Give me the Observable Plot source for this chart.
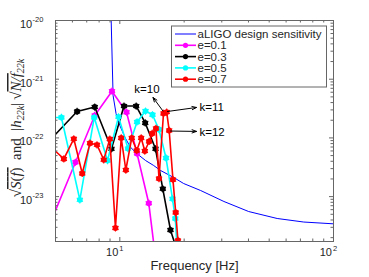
<!DOCTYPE html>
<html><head><meta charset="utf-8">
<script src="https://cdn.jsdelivr.net/npm/d3@7"></script>
<script src="https://cdn.jsdelivr.net/npm/@observablehq/plot@0.6"></script>
<style>
body{margin:0;background:#fff}
svg{font-family:"Liberation Sans",Arial,sans-serif}
</style>
</head><body><div id="chart"></div>
<script>
// ---- data ----
const aligoFreq = [9.08, 9.11, 9.3, 9.6, 10.0, 10.6, 11.2, 12.0, 13.2, 14.4, 15.5, 17.9, 19.9, 23.9, 30.7, 40.1, 54.5, 72.6, 100];
const aligoVal  = [1e-18, 1e-20, 5.27e-22, 2.61e-22, 1.63e-22, 1.0e-22, 7.0e-23, 5.42e-23, 4.12e-23, 3.39e-23, 2.79e-23, 2.11e-23, 1.67e-23, 1.27e-23, 8.26e-24, 5.57e-24, 4.24e-24, 3.69e-24, 3.44e-24];

const e01Freq = [4.6, 6.20, 7.63, 9.19, 10.75, 12.04, 13.66, 15.2];
const e01Val  = [2.79e-24, 3.85e-23, 2.41e-22, 6.25e-22, 2.74e-22, 5.42e-23, 7.72e-24, 3.3e-25];

const e03Freq = [4.7, 6.31, 7.63, 9.14, 10.46, 11.93, 13.15, 14.69, 15.89, 17.26, 18.52];
const e03Val  = [9.04e-23, 2.82e-22, 3.36e-22, 6.52e-23, 3.49e-22, 3.49e-22, 1.80e-22, 6.52e-23, 1.36e-23, 2.70e-24, 1.21e-24];

const e05Freq = [4.5, 5.33, 6.50, 7.59, 8.76, 9.86, 10.92, 12.04, 13.19, 14.22, 15.25, 16.45, 17.64, 18.18, 18.71];
const e05Val  = [2.23e-22, 2.23e-22, 8.83e-24, 2.23e-22, 4.12e-23, 2.29e-22, 6.59e-23, 1.87e-22, 2.87e-22, 2.48e-22, 1.39e-22, 4.55e-23, 9.18e-24, 4.24e-24, 7.5e-25];

const e07Freq = [4.84, 5.47, 6.09, 6.67, 7.25, 7.82, 8.41, 8.98, 9.54, 10.15, 10.67, 11.37, 12.0, 12.59, 13.09, 13.71, 14.17, 14.76, 15.25, 16.01, 16.57, 17.02, 17.73, 18.26, 18.71];
const e07Val  = [6.62e-23, 4.38e-23, 9.66e-23, 2.48e-23, 8.13e-23, 7.63e-23, 4.24e-23, 9.57e-23, 2.92e-24, 1.0e-22, 2.84e-23, 1.0e-22, 6.10e-23, 1.0e-22, 5.98e-23, 8.69e-23, 1.19e-22, 1.45e-22, 2.03e-23, 2.61e-22, 2.76e-22, 1.34e-22, 1.95e-23, 5.36e-24, 1.79e-24];

const seriesNames  = ["e=0.1", "e=0.3", "e=0.5", "e=0.7"];
const seriesColors = ["#ff00ff", "#000000", "#00ffff", "#ff0000"];
const aligoName = "aLIGO design sensitivity";
const aligoColor = "#0000ff";

// annotations (arrow start -> end, label position)
const kLabels   = ["k=10", "k=11", "k=12"];
const kArrowX1  = [15.92, 16.71, 17.26];
const kArrowY1  = [2.87e-22, 2.82e-22, 1.31e-22];
const kArrowX2  = [14.30, 22.84, 22.84];
const kArrowY2  = [4.88e-22, 3.30e-22, 1.29e-22];
const kTextX    = [13.40, 23.59, 23.59];
const kTextY    = [6.68e-22, 3.30e-22, 1.27e-22];
const kAnchor   = ["middle", "start", "start"];

const xMajor = [10, 100];
const xMinor = [6, 7, 8, 9, 20, 30, 40, 50, 60, 70, 80, 90];
const yMajor = [1e-23, 1e-22, 1e-21, 1e-20];
const yMinor = [];
[1e-24, 1e-23, 1e-22, 1e-21].forEach(b => { for (let m = 2; m <= 9; m++) yMinor.push(m * b); });
const xLabel = "Frequency [Hz]";

// ---- build tables ----
const aligo = aligoFreq.map((f, i) => ({f, v: aligoVal[i]}));
const seriesF = [e01Freq, e03Freq, e05Freq, e07Freq];
const seriesV = [e01Val, e03Val, e05Val, e07Val];
const series = seriesF.map((fs, s) => fs.map((f, i) => ({f, v: seriesV[s][i]})));
const arrows = kLabels.map((t, i) => ({t, x1: kArrowX1[i], y1: kArrowY1[i], x2: kArrowX2[i], y2: kArrowY2[i], tx: kTextX[i], ty: kTextY[i], a: kAnchor[i]}));

const W = 369, H = 277, mL = 55, mR = 36, mT = 20, mB = 36;
const iW = W - mL - mR, iH = H - mT - mB;
const axisColor = "#666";
const majLen = 4, minLen = 2.5;

const marks = [
  Plot.line(aligo, {x: "f", y: "v", stroke: aligoColor, strokeWidth: 1, clip: true})
];
series.forEach((d, s) => {
  marks.push(Plot.line(d, {x: "f", y: "v", stroke: seriesColors[s], strokeWidth: 1.6, clip: true}));
  marks.push(Plot.dot(d, {x: "f", y: "v", fill: seriesColors[s], r: 2.9, clip: true}));
  marks.push(Plot.dot(d, {x: "f", y: "v", symbol: "asterisk", stroke: seriesColors[s], strokeWidth: 1.1, r: 3.4, clip: true}));
});
marks.push(
  Plot.arrow(arrows, {x1: "x1", y1: "y1", x2: "x2", y2: "y2", stroke: "black", strokeWidth: 1, headLength: 7, headAngle: 40}),
  Plot.text(arrows.filter(d => d.a === "middle"), {x: "tx", y: "ty", text: "t", fontSize: 11.5, textAnchor: "middle", fill: "black"}),
  Plot.text(arrows.filter(d => d.a === "start"), {x: "tx", y: "ty", text: "t", fontSize: 11.5, textAnchor: "start", fill: "black"}),
  // ticks (inward, box on)
  Plot.tickX(xMajor, {x: d => d, insetTop: iH - majLen, stroke: axisColor}),
  Plot.tickX(xMajor, {x: d => d, insetBottom: iH - majLen, stroke: axisColor}),
  Plot.tickX(xMinor, {x: d => d, insetTop: iH - minLen, stroke: axisColor}),
  Plot.tickX(xMinor, {x: d => d, insetBottom: iH - minLen, stroke: axisColor}),
  Plot.tickY(yMajor, {y: d => d, insetRight: iW - majLen, stroke: axisColor}),
  Plot.tickY(yMajor, {y: d => d, insetLeft: iW - majLen, stroke: axisColor}),
  Plot.tickY(yMinor, {y: d => d, insetRight: iW - minLen, stroke: axisColor}),
  Plot.tickY(yMinor, {y: d => d, insetLeft: iW - minLen, stroke: axisColor}),
  Plot.frame({stroke: axisColor, strokeWidth: 1}),
  // tick labels 10^n
  Plot.text(xMajor, {x: d => d, frameAnchor: "bottom", dy: 14, dx: -1.5, text: () => "10", textAnchor: "end", fontSize: 11, fill: "#262626"}),
  Plot.text(xMajor, {x: d => d, frameAnchor: "bottom", dy: 9, dx: -0.5, text: d => String(Math.round(Math.log10(d))), textAnchor: "start", fontSize: 7.5, fill: "#262626"}),
  Plot.text(yMajor, {y: d => d, frameAnchor: "left", dx: -23.3, dy: 4, text: () => "10", textAnchor: "end", fontSize: 11, fill: "#262626"}),
  Plot.text(yMajor, {y: d => d, frameAnchor: "left", dx: -23, dy: -1, text: d => String(Math.round(Math.log10(d))), textAnchor: "start", fontSize: 7.5, fill: "#262626"}),
  Plot.text([xLabel], {frameAnchor: "bottom", dy: 28, text: d => d, fontSize: 13, fill: "#262626"})
);

const svg = Plot.plot({
  width: W, height: H,
  marginLeft: mL, marginRight: mR, marginTop: mT, marginBottom: mB,
  x: {type: "log", domain: [5, 100], axis: null},
  y: {type: "log", domain: [1.72e-24, 1e-20], axis: null},
  style: {background: "white", fontFamily: "Liberation Sans, Arial, sans-serif", overflow: "visible"},
  marks
});
document.getElementById("chart").append(svg);

// ---- legend (inside the axes, top right) ----
const sel = d3.select(svg);
const lg = sel.append("g").attr("aria-label", "legend");
const lx = 171.5, ly = 26, lw = 155, lh = 61, rowH = 11.3;
lg.append("rect").attr("x", lx).attr("y", ly).attr("width", lw).attr("height", lh)
  .attr("fill", "white").attr("stroke", axisColor).attr("stroke-width", 1);
const names = [aligoName, ...seriesNames];
const cols = [aligoColor, ...seriesColors];
names.forEach((n, i) => {
  const yy = ly + 8 + i * rowH;
  lg.append("line").attr("x1", lx + 3.5).attr("x2", lx + 24.5).attr("y1", yy).attr("y2", yy)
    .attr("stroke", cols[i]).attr("stroke-width", i === 0 ? 1 : 1.6);
  if (i > 0) {
    lg.append("circle").attr("cx", lx + 14).attr("cy", yy).attr("r", 2.6).attr("fill", cols[i]);
  }
  lg.append("text").attr("x", lx + 26).attr("y", yy).attr("dy", "0.35em")
    .attr("text-anchor", "start")
    .attr("font-size", 11.5).attr("fill", "#262626").text(n);
});

// ---- y label with math ----
const yl = sel.append("text")
  .attr("transform", "translate(21,128) rotate(-90)")
  .attr("text-anchor", "middle")
  .attr("font-family", "Liberation Serif, 'DejaVu Serif', serif")
  .attr("font-size", 15).attr("fill", "#262626");
yl.append("tspan").text("√");
yl.append("tspan").attr("text-decoration", "overline").attr("font-style", "italic").text("S");
yl.append("tspan").attr("text-decoration", "overline").text("(");
yl.append("tspan").attr("text-decoration", "overline").attr("font-style", "italic").text("f");
yl.append("tspan").attr("text-decoration", "overline").text(")");
yl.append("tspan").text("\u2002and\u2002|");
yl.append("tspan").attr("font-style", "italic").text("h");
yl.append("tspan").attr("font-size", 10).attr("font-style", "italic").attr("dy", 3).text("22k");
yl.append("tspan").attr("dy", -3).text("|\u2009√");
yl.append("tspan").attr("text-decoration", "overline").attr("font-style", "italic").text("N/f");
yl.append("tspan").attr("font-size", 10).attr("font-style", "italic").attr("dy", 3).text("22k");
</script>
</body></html>
